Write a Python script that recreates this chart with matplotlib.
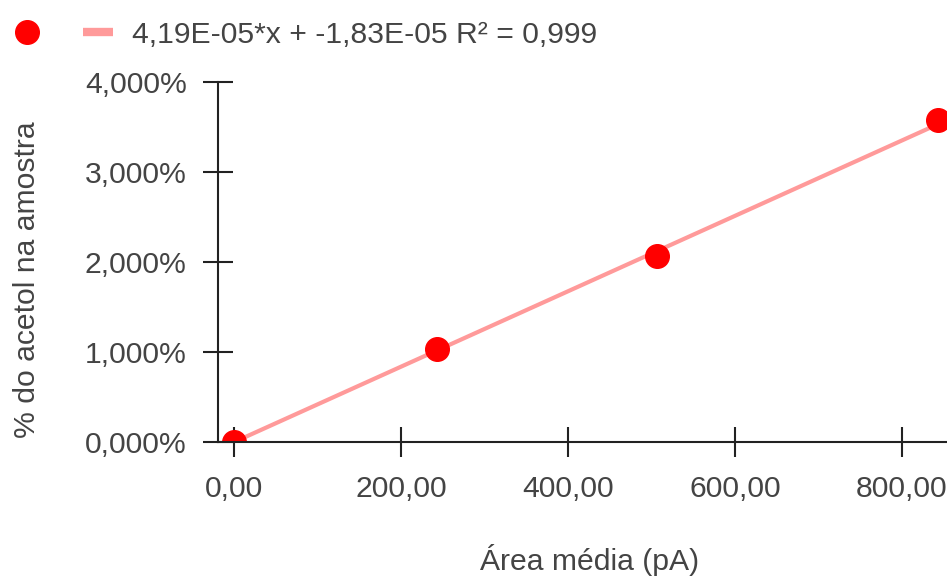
import numpy as np
import matplotlib.pyplot as plt
from matplotlib.lines import Line2D
from matplotlib.ticker import FuncFormatter

# dados
area = [0, 243, 507, 843]
acetol = [0.0, 0.0103, 0.0207, 0.0358]
slope = 4.19e-05
intercept = -1.83e-05
x_ticks = [0, 200, 400, 600, 800]
y_ticks = [0.0, 0.01, 0.02, 0.03, 0.04]
trend_label = "4,19E-05*x + -1,83E-05 R² = 0,999"

plt.rcParams['font.family'] = ['Liberation Sans', 'DejaVu Sans']
text_color = '#444444'
fs = 21.7

fig = plt.figure(figsize=(9.47, 5.79), dpi=100)
ax = fig.add_axes([0.2302, 0.2366, 0.7698, 0.6218])

xs = np.array([0, max(area)])
ax.plot(xs, slope * xs + intercept, color='#ff9a9a', lw=3, zorder=2)
pts, = ax.plot(area, acetol, 'o', color='#ff0000', ms=17, zorder=3)

ax.set_xlim(-19, 854)
ax.set_ylim(0, 0.04)
ax.set_xticks(x_ticks)
ax.set_yticks(y_ticks)
ax.xaxis.set_major_formatter(FuncFormatter(lambda v, p: f"{v:.2f}".replace('.', ',')))
ax.yaxis.set_major_formatter(FuncFormatter(lambda v, p: f"{v * 100:.3f}%".replace('.', ',')))

for s in ['top', 'right']:
    ax.spines[s].set_visible(False)
for s in ['left', 'bottom']:
    ax.spines[s].set_color('#222222')
    ax.spines[s].set_linewidth(1.5)
    ax.spines[s].set_zorder(4)

ax.tick_params(direction='inout', length=21, width=1.5, color='#222222',
               labelsize=fs, labelcolor=text_color, zorder=4)
ax.tick_params(axis='y', pad=12)
ax.tick_params(axis='x', pad=13)

ax.set_xlabel('Área média (pA)', fontsize=fs, color=text_color)
ax.set_ylabel('% do acetol na amostra', fontsize=fs, color=text_color)
ax.xaxis.set_label_coords(0.510, -0.283)
ax.yaxis.set_label_coords(-0.243, 0.45)

trend_handle = Line2D([], [], color='#ff9a9a', lw=6, solid_capstyle='butt')
fig.legend([pts, trend_handle], ['', trend_label], loc='center left',
           bbox_to_anchor=(0.0, 0.940), ncol=2, frameon=False, fontsize=fs,
           labelcolor=text_color, handlelength=1.0, handletextpad=0.63,
           columnspacing=0.72, borderaxespad=0)

fig.savefig('out.png', dpi=100)
